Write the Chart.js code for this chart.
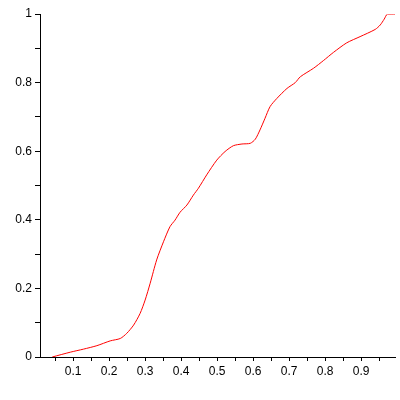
<!DOCTYPE html>
<html>
<head>
<meta charset="utf-8">
<script src="https://cdn.jsdelivr.net/npm/chart.js@4/dist/chart.umd.min.js"></script>
<style>
  body { margin: 0; background: #fff; }
  #wrap { width: 400px; height: 400px; }
</style>
</head>
<body>
<div id="wrap"><canvas id="plot" width="400" height="400"></canvas></div>
<script>
// curve
const xValues = [0.042, 0.092, 0.129, 0.166, 0.203, 0.231, 0.249, 0.268, 0.286, 0.300,
                 0.314, 0.332, 0.351, 0.369, 0.383, 0.397, 0.416, 0.434, 0.448, 0.471,
                 0.499, 0.522, 0.545, 0.569, 0.592, 0.606, 0.619, 0.633, 0.647, 0.666,
                 0.694, 0.717, 0.731, 0.768, 0.795, 0.823, 0.860, 0.897, 0.939, 0.953,
                 0.964, 0.973, 0.994];
const yValues = [0.000, 0.014, 0.023, 0.033, 0.047, 0.054, 0.069, 0.093, 0.127, 0.166,
                 0.215, 0.283, 0.336, 0.380, 0.399, 0.422, 0.443, 0.472, 0.492, 0.531,
                 0.574, 0.599, 0.616, 0.621, 0.623, 0.635, 0.662, 0.696, 0.730, 0.754,
                 0.783, 0.800, 0.817, 0.842, 0.864, 0.888, 0.916, 0.934, 0.955, 0.968,
                 0.985, 1.000, 1.000];

const xTickValues = [0.05, 0.1, 0.15, 0.2, 0.25, 0.3, 0.35, 0.4, 0.45, 0.5,
                     0.55, 0.6, 0.65, 0.7, 0.75, 0.8, 0.85, 0.9, 0.95];
const xTickLabels = ['', '0.1', '', '0.2', '', '0.3', '', '0.4', '', '0.5',
                     '', '0.6', '', '0.7', '', '0.8', '', '0.9', ''];
const yTickValues = [0, 0.1, 0.2, 0.3, 0.4, 0.5, 0.6, 0.7, 0.8, 0.9, 1];
const yTickLabels = ['0', '', '0.2', '', '0.4', '', '0.6', '', '0.8', '', '1'];

const points = xValues.map((x, i) => ({ x: x, y: yValues[i] }));

const tickFont = { family: 'Liberation Sans', size: 12 };

new Chart(document.getElementById('plot').getContext('2d'), {
    type: 'scatter',
    data: {
        datasets: [{
            data: points,
            showLine: true,
            borderColor: '#ff0000',
            borderWidth: 1,
            pointRadius: 0,
            tension: 0.25,
            fill: false
        }]
    },
    options: {
        responsive: false,
        animation: false,
        layout: { padding: { top: 14, right: 5, left: 0, bottom: 0 } },
        plugins: {
            legend: { display: false },
            tooltip: { enabled: false }
        },
        scales: {
            x: {
                type: 'linear',
                min: 0.008,
                max: 0.994,
                afterBuildTicks: scale => {
                    scale.ticks = xTickValues.map(v => ({ value: v }));
                },
                afterFit: scale => { scale.height = 43; },
                ticks: {
                    autoSkip: false,
                    maxRotation: 0,
                    color: '#000',
                    font: tickFont,
                    padding: 3,
                    callback: (value, index) => xTickLabels[index]
                },
                grid: {
                    drawOnChartArea: false,
                    drawTicks: true,
                    tickLength: 4,
                    tickColor: '#000'
                },
                border: { color: '#000', width: 1 }
            },
            y: {
                type: 'linear',
                min: 0,
                max: 1,
                afterBuildTicks: scale => {
                    scale.ticks = yTickValues.map(v => ({ value: v }));
                },
                afterFit: scale => { scale.width = 40; },
                ticks: {
                    autoSkip: false,
                    color: '#000',
                    font: tickFont,
                    padding: 3,
                    callback: (value, index) => yTickLabels[index]
                },
                grid: {
                    drawOnChartArea: false,
                    drawTicks: true,
                    tickLength: 5,
                    tickColor: '#000'
                },
                border: { color: '#000', width: 1 }
            }
        }
    }
});
</script>
</body>
</html>
